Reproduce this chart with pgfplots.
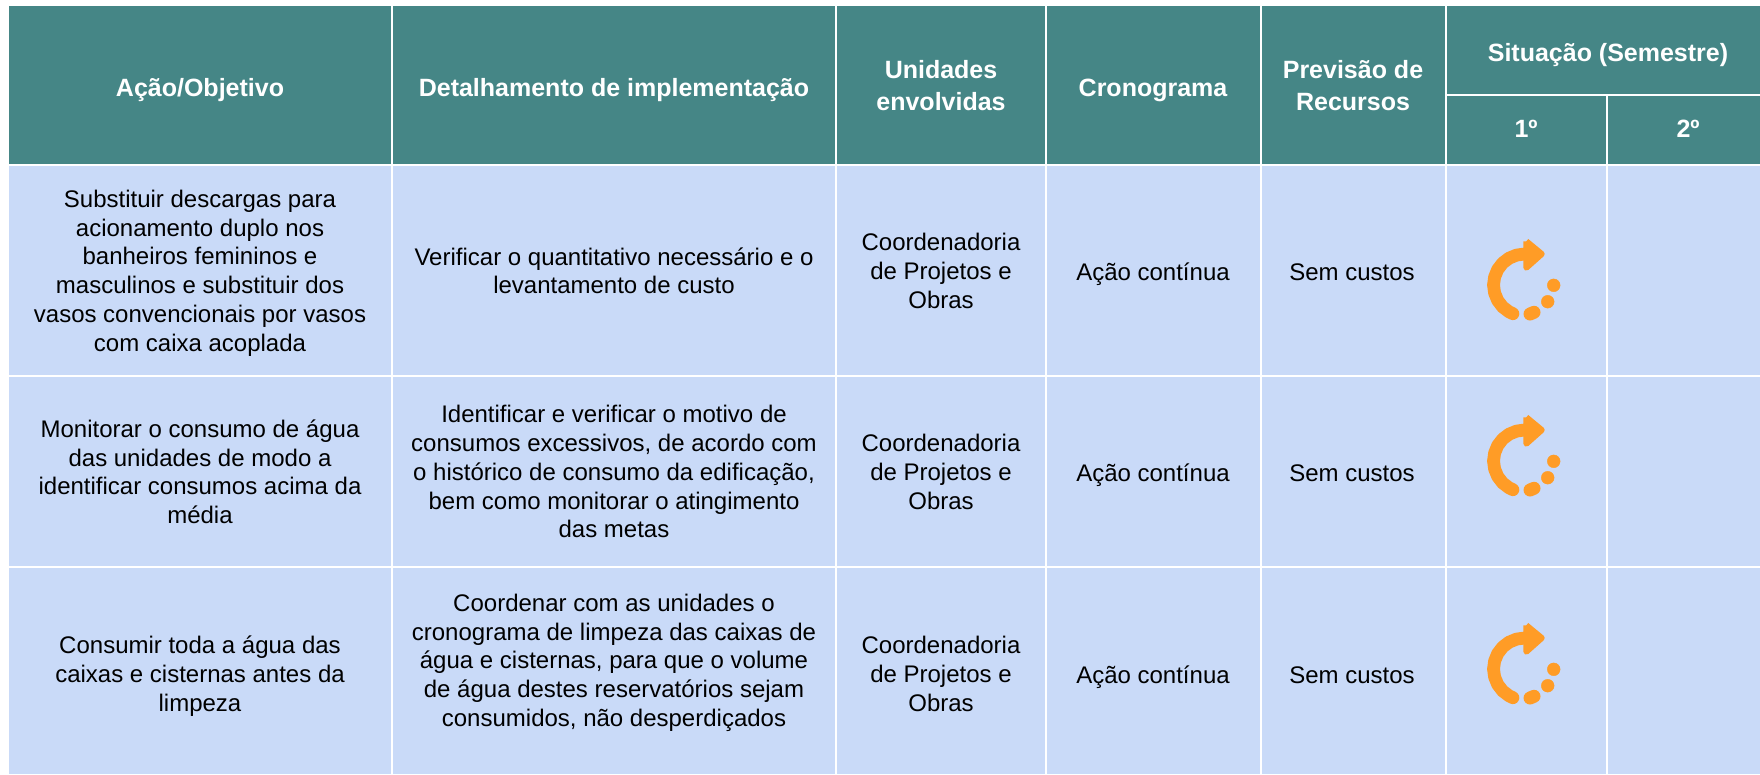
\documentclass[border=0pt]{standalone}
\usepackage{pgfplots}
\usepackage{fontspec}
\setmainfont{Liberation Sans}
\pgfplotsset{compat=1.18}
\usepackage{pgfplotstable}
\definecolor{teal}{HTML}{458686}
\definecolor{cellblue}{HTML}{C9DAF8}
\definecolor{iconorange}{HTML}{FF9C26}
\pgfplotstableread{
x y
1524.5 254
1516.5 255.1
1509 258.2
1502.6 263.1
1497.7 269.5
1494.6 277
1493.5 285
1494.6 293
1497.7 300.5
1502.6 306.9
1509 311.8
1512.9 313.7
}\arcdata
\pgfplotstableread{
x y
1526.3 241.3
1541.7 254
1526.3 267.7
1526.3 241.3
}\headdata
\pgfplotstableread{
x y
1530 314
1534 312.3
}\lastdot
\pgfplotstableread{
x y
1553.7 285.3
1547.7 301.7
}\dotsdata
\newcommand\icon[1]{%
\addplot[iconorange,line width=12.8pt,line cap=round,line join=round] table[x=x,y expr=\thisrow{y}+#1]{\arcdata};
\addplot[iconorange,fill=iconorange,line width=6pt,line join=round] table[x=x,y expr=\thisrow{y}+#1]{\headdata};
\addplot[iconorange,line width=13pt,line cap=round] table[x=x,y expr=\thisrow{y}+#1]{\lastdot};
\addplot[only marks,mark=*,mark size=6.4pt,color=iconorange,mark options={draw=none,fill=iconorange}] table[x=x,y expr=\thisrow{y}+#1]{\dotsdata};
}
\newcommand\cell[5]{\addplot[fill=#5,draw=none] coordinates {(#1,#2) (#3,#2) (#3,#4) (#1,#4)} --cycle;}
\begin{document}
\begin{tikzpicture}
\begin{axis}[scale only axis,width=1760pt,height=774pt,xmin=0,xmax=1760,ymin=0,ymax=774,y dir=reverse,hide axis,clip=true]
\cell{0}{0}{1760}{774}{white}
% header
\cell{9}{6}{391}{163.5}{teal}
\cell{393}{6}{835}{163.5}{teal}
\cell{837}{6}{1045}{163.5}{teal}
\cell{1047}{6}{1260}{163.5}{teal}
\cell{1262}{6}{1444.5}{163.5}{teal}
\cell{1446.5}{6}{1760}{93.5}{teal}
\cell{1446.5}{95.5}{1606}{163.5}{teal}
\cell{1608}{95.5}{1760}{163.5}{teal}
% body
\cell{9}{165.5}{391}{375}{cellblue}
\cell{393}{165.5}{835}{375}{cellblue}
\cell{837}{165.5}{1045}{375}{cellblue}
\cell{1047}{165.5}{1260}{375}{cellblue}
\cell{1262}{165.5}{1444.5}{375}{cellblue}
\cell{1446.5}{165.5}{1606}{375}{cellblue}
\cell{1608}{165.5}{1760}{375}{cellblue}
\cell{9}{377}{391}{565.5}{cellblue}
\cell{393}{377}{835}{565.5}{cellblue}
\cell{837}{377}{1045}{565.5}{cellblue}
\cell{1047}{377}{1260}{565.5}{cellblue}
\cell{1262}{377}{1444.5}{565.5}{cellblue}
\cell{1446.5}{377}{1606}{565.5}{cellblue}
\cell{1608}{377}{1760}{565.5}{cellblue}
\cell{9}{567.5}{391}{774}{cellblue}
\cell{393}{567.5}{835}{774}{cellblue}
\cell{837}{567.5}{1045}{774}{cellblue}
\cell{1047}{567.5}{1260}{774}{cellblue}
\cell{1262}{567.5}{1444.5}{774}{cellblue}
\cell{1446.5}{567.5}{1606}{774}{cellblue}
\cell{1608}{567.5}{1760}{774}{cellblue}
\icon{0}
\icon{176}
\icon{384}
\tikzset{hd/.style={text=white,align=center,inner sep=0pt,font=\fontsize{25}{32}\selectfont\bfseries,execute at begin node=\strut,execute at end node=\strut},
 bd/.style={text=black,align=center,inner sep=0pt,font=\fontsize{24}{28.8}\selectfont,execute at begin node=\strut,execute at end node=\strut}}
\node[hd] at (axis cs:200,90) {Ação/Objetivo};
\node[hd] at (axis cs:614,90) {Detalhamento de implementação};
\node[hd] at (axis cs:941,90) {Unidades\\envolvidas};
\node[hd] at (axis cs:1153,90) {Cronograma};
\node[hd] at (axis cs:1353,90) {Previsão de\\Recursos};
\node[hd] at (axis cs:1608,55) {Situação (Semestre)};
\node[hd] at (axis cs:1526,131) {1º};
\node[hd] at (axis cs:1688,131) {2º};
\node[bd] at (axis cs:200,275) {Substituir descargas para\\acionamento duplo nos\\banheiros femininos e\\masculinos e substituir dos\\vasos convencionais por vasos\\com caixa acoplada};
\node[bd] at (axis cs:614,275) {Verificar o quantitativo necessário e o\\levantamento de custo};
\node[bd] at (axis cs:941,275) {Coordenadoria\\de Projetos e\\Obras};
\node[bd] at (axis cs:1153,275) {Ação contínua};
\node[bd] at (axis cs:1352,275) {Sem custos};
\node[bd] at (axis cs:200,476) {Monitorar o consumo de água\\das unidades de modo a\\identificar consumos acima da\\média};
\node[bd] at (axis cs:614,476) {Identificar e verificar o motivo de\\consumos excessivos, de acordo com\\o histórico de consumo da edificação,\\bem como monitorar o atingimento\\das metas};
\node[bd] at (axis cs:941,476) {Coordenadoria\\de Projetos e\\Obras};
\node[bd] at (axis cs:1153,476) {Ação contínua};
\node[bd] at (axis cs:1352,476) {Sem custos};
\node[bd] at (axis cs:200,678) {Consumir toda a água das\\caixas e cisternas antes da\\limpeza};
\node[bd] at (axis cs:614,664.5) {Coordenar com as unidades o\\cronograma de limpeza das caixas de\\água e cisternas, para que o volume\\de água destes reservatórios sejam\\consumidos, não desperdiçados};
\node[bd] at (axis cs:941,678) {Coordenadoria\\de Projetos e\\Obras};
\node[bd] at (axis cs:1153,678) {Ação contínua};
\node[bd] at (axis cs:1352,678) {Sem custos};
\end{axis}
\end{tikzpicture}
\end{document}
